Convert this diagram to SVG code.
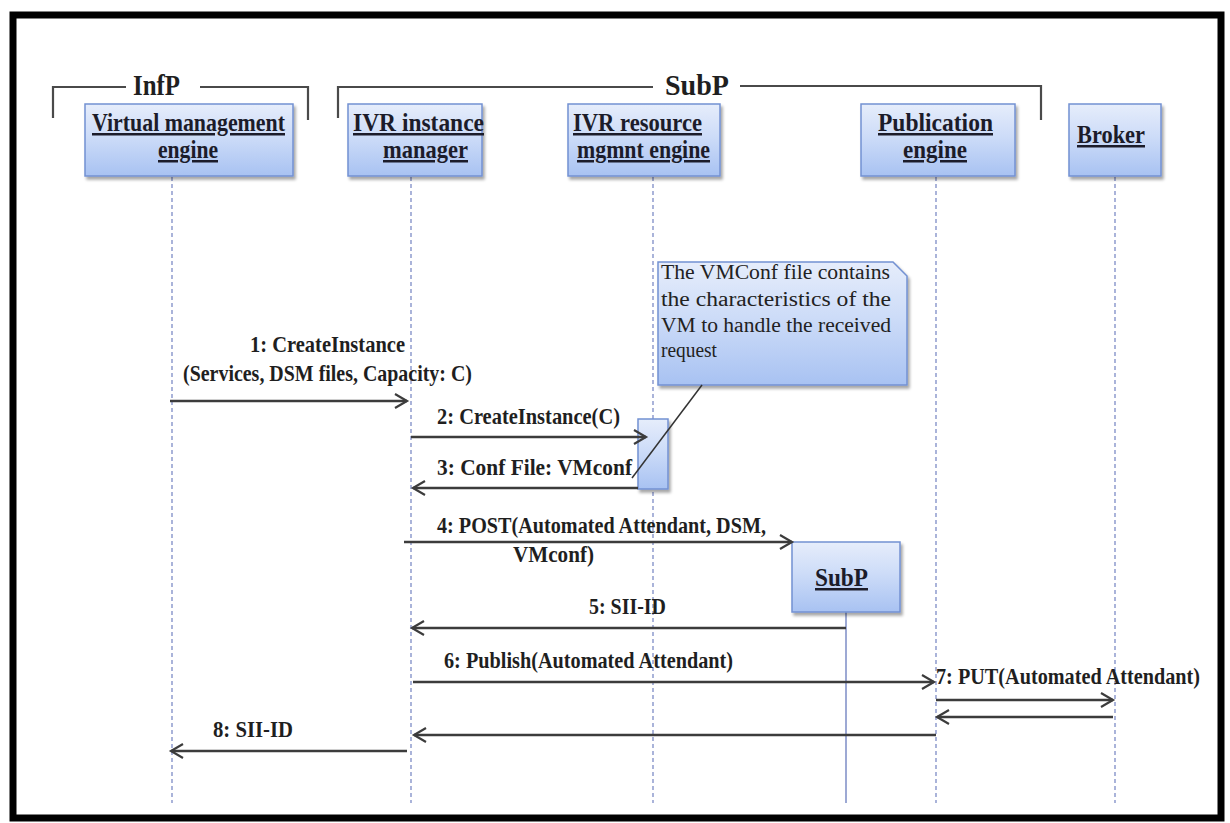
<svg xmlns="http://www.w3.org/2000/svg" width="1230" height="823" viewBox="0 0 1230 823">
  <style>
    .node rect { fill: url(#boxFill); stroke: #7391d2; stroke-width: 1.5; filter: url(#shadow); }
    .ntext { font-family: "Liberation Serif", "Times New Roman", serif; font-weight: bold; font-size: 25px; fill: #1c1c2a; text-decoration: underline; text-anchor: start; }
    .life { stroke: #7d8cc6; stroke-width: 1.3; stroke-dasharray: 4 3; fill: none; }
    .lifesolid { stroke: #7d8cc6; stroke-width: 1.5; fill: none; }
    .msg { stroke: #3c3c3c; stroke-width: 2.6; fill: none; marker-end: url(#open); }
    .lbl { font-family: "Liberation Serif", "Times New Roman", serif; font-weight: bold; font-size: 22.5px; fill: #1f1f1f; }
    .grp { stroke: #4a4a4a; stroke-width: 2.2; fill: none; }
    .gtext { font-family: "Liberation Serif", "Times New Roman", serif; font-weight: bold; font-size: 29px; fill: #1f1f1f; }
    .ntxt { font-family: "Liberation Serif", "Times New Roman", serif; font-size: 20px; fill: #222; }
  </style>
  <defs>
    <linearGradient id="boxFill" x1="0" y1="0" x2="0" y2="1">
      <stop offset="0" stop-color="#e6edfb"/>
      <stop offset="0.45" stop-color="#cddcf8"/>
      <stop offset="1" stop-color="#a8c2f2"/>
    </linearGradient>
    <filter id="shadow" x="-10%" y="-10%" width="130%" height="140%">
      <feDropShadow dx="2" dy="3" stdDeviation="1.8" flood-color="#000" flood-opacity="0.35"/>
    </filter>
    <marker id="open" markerWidth="16" markerHeight="18" refX="13" refY="8" orient="auto" markerUnits="userSpaceOnUse">
      <path d="M1,1 L13,8 L1,15" fill="none" stroke="#3c3c3c" stroke-width="2.2"/>
    </marker>
  </defs>

  <!-- outer frame -->
  <rect x="0" y="0" width="1230" height="823" fill="#ffffff"/>
  <rect x="13" y="15" width="1208" height="803" fill="#ffffff" stroke="#000" stroke-width="7"/>

  <!-- platform brackets -->
  <g id="group-infp">
    <path class="grp" d="M53,118 V87 H126 M200,87 H308 V120"/>
    <text class="gtext" x="133" y="95" textLength="47" lengthAdjust="spacingAndGlyphs">InfP</text>
  </g>
  <g id="group-subp">
    <path class="grp" d="M338,118 V87 H653 M740,86 H1041 V120"/>
    <text class="gtext" x="665" y="95" textLength="64" lengthAdjust="spacingAndGlyphs">SubP</text>
  </g>

  <!-- lifelines -->
  <g id="lifelines">
    <line class="life" x1="172" y1="177" x2="172" y2="803"/>
    <line class="life" x1="411" y1="177" x2="411" y2="803"/>
    <line class="life" x1="653" y1="177" x2="653" y2="803"/>
    <line class="life" x1="936" y1="177" x2="936" y2="803"/>
    <line class="life" x1="1115" y1="177" x2="1115" y2="803"/>
    <line class="lifesolid" x1="846" y1="612" x2="846" y2="803"/>
  </g>

  <!-- participants -->
  <g id="node-virtual-management-engine" class="node">
    <rect x="85" y="104" width="208" height="72"/>
    <text class="ntext" x="92" y="131" textLength="193" lengthAdjust="spacingAndGlyphs">Virtual management</text>
    <text class="ntext" x="158" y="158" textLength="60" lengthAdjust="spacingAndGlyphs">engine</text>
  </g>
  <g id="node-ivr-instance-manager" class="node">
    <rect x="348" y="104" width="134" height="72"/>
    <text class="ntext" x="353" y="131" textLength="131" lengthAdjust="spacingAndGlyphs">IVR instance</text>
    <text class="ntext" x="383" y="158" textLength="85" lengthAdjust="spacingAndGlyphs">manager</text>
  </g>
  <g id="node-ivr-resource-mgmnt-engine" class="node">
    <rect x="568" y="104" width="152" height="72"/>
    <text class="ntext" x="573" y="131" textLength="129" lengthAdjust="spacingAndGlyphs">IVR resource</text>
    <text class="ntext" x="577" y="158" textLength="133" lengthAdjust="spacingAndGlyphs">mgmnt engine</text>
  </g>
  <g id="node-publication-engine" class="node">
    <rect x="861" y="104" width="154" height="72"/>
    <text class="ntext" x="878" y="131" textLength="115" lengthAdjust="spacingAndGlyphs">Publication </text>
    <text class="ntext" x="903" y="158" textLength="64" lengthAdjust="spacingAndGlyphs">engine</text>
  </g>
  <g id="node-broker" class="node">
    <rect x="1069" y="104" width="92" height="72"/>
    <text class="ntext" x="1077" y="143" textLength="68" lengthAdjust="spacingAndGlyphs">Broker</text>
  </g>
  <g id="node-subp" class="node">
    <rect x="792" y="542" width="108" height="70"/>
    <text class="ntext" x="815" y="586" textLength="53" lengthAdjust="spacingAndGlyphs">SubP</text>
  </g>

  <!-- activation bar on the resource engine -->
  <g id="activation-resource" class="node">
    <rect x="638" y="419" width="30" height="70"/>
  </g>

  <!-- comment note -->
  <g id="note-vmconf">
    <path d="M658,262 H893 L907,276 V385 H658 Z" fill="url(#boxFill)" stroke="#7391d2" stroke-width="1.5" filter="url(#shadow)"/>
    <text class="ntxt" x="661" y="279" textLength="229" lengthAdjust="spacingAndGlyphs">The VMConf  file contains</text>
    <text class="ntxt" x="661" y="306" textLength="230" lengthAdjust="spacingAndGlyphs">the  characteristics  of  the</text>
    <text class="ntxt" x="661" y="332" textLength="230" lengthAdjust="spacingAndGlyphs">VM to handle the received</text>
    <text class="ntxt" x="661" y="357" textLength="56" lengthAdjust="spacingAndGlyphs">request</text>
    <line x1="702" y1="385" x2="632" y2="478" stroke="#333" stroke-width="1.5"/>
  </g>

  <!-- messages -->
  <g id="connectors">
    <line class="msg" x1="170" y1="401" x2="407" y2="401"/>
    <line class="msg" x1="411" y1="437" x2="646" y2="437"/>
    <line class="msg" x1="638" y1="488" x2="413" y2="488"/>
    <line class="msg" x1="404" y1="542" x2="792" y2="542"/>
    <line class="msg" x1="846" y1="628" x2="412" y2="628"/>
    <line class="msg" x1="413" y1="682" x2="934" y2="682"/>
    <line class="msg" x1="936" y1="700" x2="1113" y2="700"/>
    <line class="msg" x1="1113" y1="717" x2="937" y2="717"/>
    <line class="msg" x1="936" y1="735" x2="414" y2="735"/>
    <line class="msg" x1="407" y1="751" x2="171" y2="751"/>
  </g>

  <!-- message labels -->
  <g id="message-labels">
    <text class="lbl" x="250" y="352" textLength="155" lengthAdjust="spacingAndGlyphs">1: CreateInstance</text>
    <text class="lbl" x="183" y="381" textLength="289" lengthAdjust="spacingAndGlyphs">(Services, DSM files, Capacity: C)</text>
    <text class="lbl" x="437" y="424" textLength="183" lengthAdjust="spacingAndGlyphs">2: CreateInstance(C)</text>
    <text class="lbl" x="437" y="475" textLength="195" lengthAdjust="spacingAndGlyphs">3: Conf File: VMconf</text>
    <text class="lbl" x="437" y="533" textLength="329" lengthAdjust="spacingAndGlyphs">4: POST(Automated Attendant, DSM,</text>
    <text class="lbl" x="513" y="562" textLength="81" lengthAdjust="spacingAndGlyphs">VMconf)</text>
    <text class="lbl" x="589" y="614" textLength="77" lengthAdjust="spacingAndGlyphs">5: SII-ID</text>
    <text class="lbl" x="444" y="668" textLength="289" lengthAdjust="spacingAndGlyphs">6: Publish(Automated Attendant)</text>
    <text class="lbl" x="936" y="684" textLength="264" lengthAdjust="spacingAndGlyphs">7: PUT(Automated Attendant)</text>
    <text class="lbl" x="213" y="737" textLength="80" lengthAdjust="spacingAndGlyphs">8: SII-ID</text>
  </g>
</svg>
